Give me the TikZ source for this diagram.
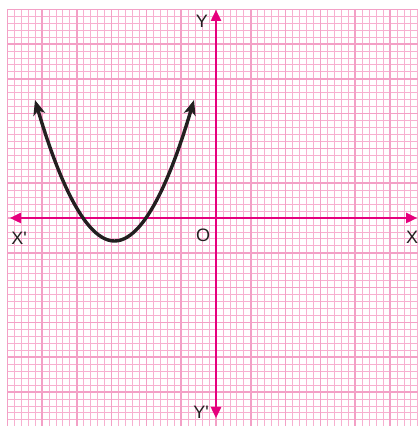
\documentclass[tikz,border=0pt]{standalone}
\usepackage{fontspec}
\newfontfamily\labfont{Liberation Sans}
\usetikzlibrary{arrows.meta}
\definecolor{minorpink}{RGB}{247,176,208}
\definecolor{majorpink}{RGB}{243,160,198}
\definecolor{axismag}{RGB}{229,0,125}
\definecolor{labgray}{RGB}{35,31,32}
\tikzset{
  minorline/.style={draw=minorpink, line width=0.8pt},
  majorline/.style={draw=majorpink, line width=1.7pt},
  axisline/.style={draw=axismag, line width=2.4pt, {Triangle[length=11pt,width=10pt]}-{Triangle[length=11pt,width=10pt]}},
  curveline/.style={draw=labgray, line width=3.4pt, {Stealth[length=15pt,width=12pt,inset=4pt]}-{Stealth[length=15pt,width=12pt,inset=4pt]}},
  lab/.style={text=labgray, font=\labfont\fontsize{18}{18}\selectfont, inner sep=0pt}
}
\begin{document}
\begin{tikzpicture}[x=1pt,y=1pt]
\useasboundingbox (0,0) rectangle (418,426);
\fill[white] (0,0) rectangle (418,426);
\begin{scope}
\clip (7.2,0) rectangle (418,416.8);
% minor grid
\foreach \i in {-30,...,29} {
  \draw[minorline] ({216+\i*6.96},0) -- ({216+\i*6.96},416.8);
}
\foreach \j in {-30,...,30} {
  \draw[minorline] (7.2,{208+\j*6.96}) -- (418,{208+\j*6.96});
}
% major grid
\foreach \i in {-30,-25,...,25} {
  \draw[majorline] ({216+\i*6.96},0) -- ({216+\i*6.96},416.8);
}
\foreach \j in {-30,-25,...,30} {
  \draw[majorline] (7.2,{208+\j*6.96}) -- (418,{208+\j*6.96});
}
\end{scope}
% axes
\coordinate (xl) at (10,208);
\coordinate (xr) at (417,208);
\coordinate (yt) at (216,416);
\coordinate (yb) at (216,8);
\draw[axisline] (xl) -- (xr);
\draw[axisline] (yb) -- (yt);
% curve
\coordinate (cl) at (35,326);
\coordinate (cv) at (114.5,185);
\coordinate (cr) at (194,326);
\draw[curveline] (cl) .. controls (51,272) and (80,185) .. (cv)
                      .. controls (149,185) and (178,272) .. (cr);
% labels
\node[lab] (Y) at (202,405) {Y};
\node[lab] (Yp) at (201,14) {Y'};
\node[lab] (Xp) at (19,188) {X'};
\node[lab, anchor=west] (X) at (406,189) {X};
\node[lab] (O) at (203,191) {O};
\end{tikzpicture}
\end{document}
